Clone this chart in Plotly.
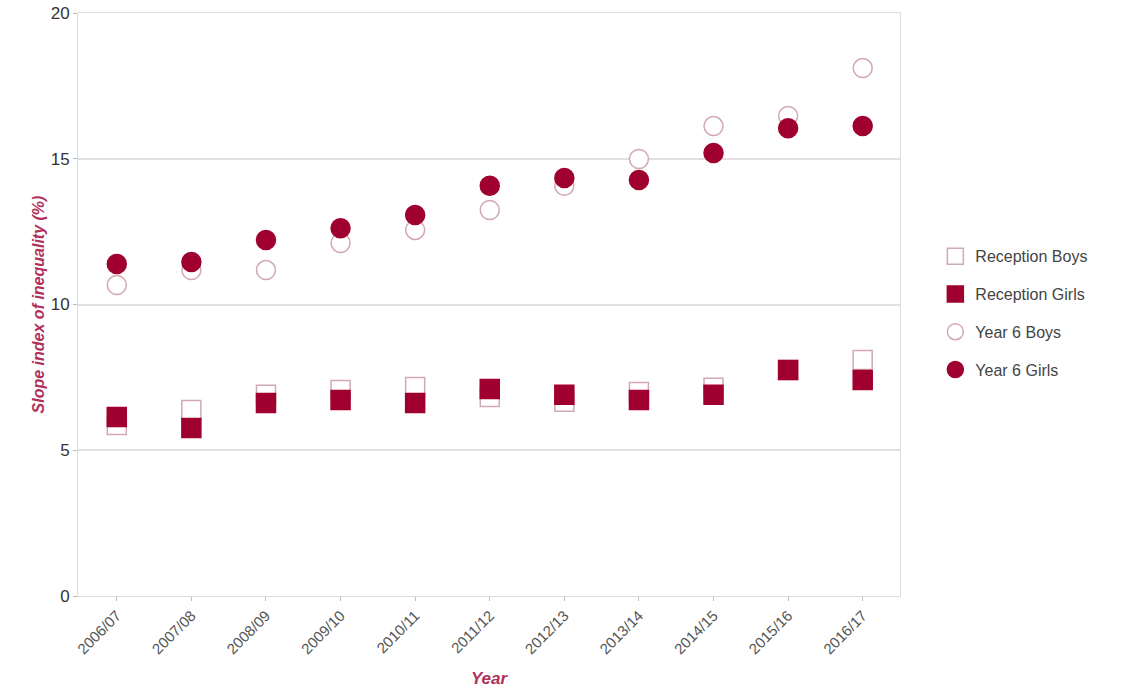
import plotly.graph_objects as go

years = ["2006/07", "2007/08", "2008/09", "2009/10", "2010/11", "2011/12",
         "2012/13", "2013/14", "2014/15", "2015/16", "2016/17"]
reception_boys = [5.87, 6.38, 6.90, 7.07, 7.17, 6.83, 6.66, 7.00, 7.14, 7.75, 8.10]
reception_girls = [6.14, 5.76, 6.62, 6.72, 6.62, 7.10, 6.90, 6.72, 6.90, 7.75, 7.41]
year6_boys = [10.67, 11.18, 11.18, 12.11, 12.56, 13.24, 14.07, 14.99, 16.12, 16.47, 18.11]
year6_girls = [11.39, 11.46, 12.21, 12.62, 13.07, 14.07, 14.34, 14.27, 15.20, 16.05, 16.12]
y_ticks = [0, 5, 10, 15, 20]

DARK = "#a0002f"
OPEN = "#d2a8b2"

fig = go.Figure()
series = [
    ("Reception Boys", reception_boys, "square", "white", OPEN),
    ("Reception Girls", reception_girls, "square", DARK, DARK),
    ("Year 6 Boys", year6_boys, "circle", "white", OPEN),
    ("Year 6 Girls", year6_girls, "circle", DARK, DARK),
]
for name, vals, sym, fill, line in series:
    fig.add_trace(go.Scatter(
        x=years, y=vals, mode="markers", name=name, legendgroup=name,
        marker=dict(symbol=sym, size=19, color=fill,
                    line=dict(color=line, width=1.5)),
    ))

fig.update_layout(
    width=1124, height=688,
    margin=dict(l=78, r=224, t=13, b=92, autoexpand=False),
    paper_bgcolor="white", plot_bgcolor="white",
    font=dict(family="Liberation Sans, Arial, sans-serif", color="#444"),
    showlegend=True,
    legend=dict(x=1.043, y=0.485, xanchor="left", yanchor="middle",
                font=dict(size=16, color="#444"), tracegroupgap=14,
                itemsizing="trace", bgcolor="rgba(0,0,0,0)"),
)
fig.update_xaxes(
    type="category", range=[-0.52, 10.5], automargin=False,
    tickangle=-45, tickfont=dict(size=15, color="#555"),
    ticks="outside", ticklen=4, tickcolor="#bbb",
    showgrid=False, showline=True, linecolor="#ddd", mirror=True, linewidth=1,
    title=dict(text="<b><i>Year</i></b>", font=dict(size=17, color="#b0305a"), standoff=18),
)
fig.update_yaxes(
    range=[0, 20], tickvals=y_ticks, tickfont=dict(size=17, color="#333"),
    automargin=False,
    ticks="outside", ticklen=4, tickcolor="#bbb",
    showgrid=True, gridcolor="#e4e0e1", gridwidth=2,
    showline=True, linecolor="#ddd", mirror=True, linewidth=1,
    zeroline=False,
    title=dict(text="<b><i>Slope index of inequality (%)</i></b>",
               font=dict(size=16, color="#b0305a"), standoff=2),
)

fig.write_html("out.html", config={"displayModeBar": False},
               post_script="document.body.style.margin='0';")
